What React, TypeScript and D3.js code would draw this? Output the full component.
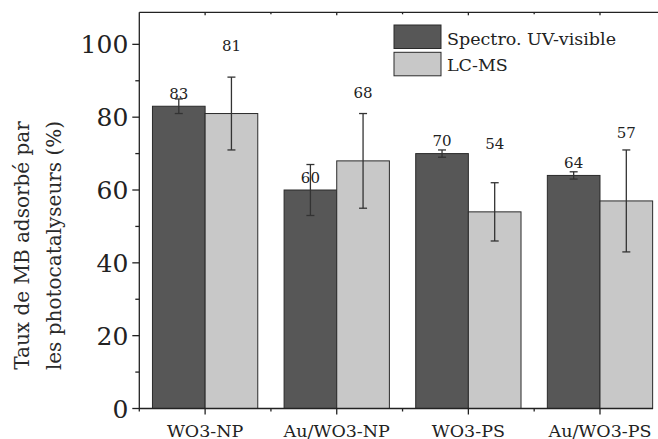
import React from "react";
import * as d3 from "d3";

const categories = ["WO3-NP", "Au/WO3-NP", "WO3-PS", "Au/WO3-PS"];
const seriesNames = ["Spectro. UV-visible", "LC-MS"];
const uvValues = [83, 60, 70, 64];
const uvErrors = [2, 7, 1, 1];
const lcValues = [81, 68, 54, 57];
const lcErrors = [10, 13, 8, 14];
const yTicks = [0, 20, 40, 60, 80, 100];
const yMinorTicks = [10, 30, 50, 70, 90];
const yMax = 108.8;
const yTitleLines = ["Taux de MB adsorbé par", "les photocatalyseurs (%)"];

const W = 658;
const H = 439;
const left = 139.3;
const top = 12.3;
const bottom = 408.5;
const xRangeEnd = 665.8;
const axisEnd = 653;

const colors = ["#575757", "#c8c8c8"];
const labelOffsets = [7.5, 62.5];
const FONT = "'DejaVu Serif', serif";

export default function App() {
  const x = d3
    .scaleBand<string>()
    .domain(categories)
    .range([left, xRangeEnd])
    .paddingInner(0.2)
    .paddingOuter(0.1);
  const xs = d3.scaleBand<number>().domain([0, 1]).range([0, x.bandwidth()]);
  const y = d3.scaleLinear().domain([0, yMax]).range([bottom, top]);
  const step = x.step();
  const values = [uvValues, lcValues];
  const errors = [uvErrors, lcErrors];
  const centers = categories.map((c) => (x(c) as number) + x.bandwidth() / 2);
  const boundaries = categories.slice(1).map((c) => (x(c) as number) - (step - x.bandwidth()) / 2);

  return (
    <svg
      width={W}
      height={H}
      style={{ position: "absolute", left: 0, top: 0, background: "#fff" }}
      fontFamily={FONT}
    >
      {values.map((vals, s) =>
        categories.map((c, i) => {
          const bx = (x(c) as number) + (xs(s) as number);
          return (
            <rect
              key={`b${s}-${i}`}
              x={bx}
              y={y(vals[i])}
              width={xs.bandwidth()}
              height={y(0) - y(vals[i])}
              fill={colors[s]}
              stroke="#2a2a2a"
              strokeWidth={1}
            />
          );
        })
      )}
      {values.map((vals, s) =>
        categories.map((c, i) => {
          const cx = (x(c) as number) + (xs(s) as number) + xs.bandwidth() / 2;
          const y1 = y(vals[i] + errors[s][i]);
          const y2 = y(vals[i] - errors[s][i]);
          return (
            <g key={`e${s}-${i}`} stroke="#333" strokeWidth={1.3}>
              <line x1={cx} x2={cx} y1={y1} y2={y2} />
              <line x1={cx - 4} x2={cx + 4} y1={y1} y2={y1} />
              <line x1={cx - 4} x2={cx + 4} y1={y2} y2={y2} />
            </g>
          );
        })
      )}
      {values.map((vals, s) =>
        categories.map((c, i) => {
          const cx = (x(c) as number) + (xs(s) as number) + xs.bandwidth() / 2;
          return (
            <text
              key={`l${s}-${i}`}
              x={cx}
              y={y(vals[i]) - labelOffsets[s]}
              textAnchor="middle"
              fontSize={15}
              fill="#222"
            >
              {vals[i]}
            </text>
          );
        })
      )}
      <g stroke="#222" strokeWidth={1.3} fill="none">
        <line x1={left} x2={left} y1={top} y2={bottom + 3} />
        <line x1={left} x2={W} y1={top} y2={top} />
        <line x1={left} x2={axisEnd} y1={bottom} y2={bottom} />
        {yTicks.map((t) => (
          <line key={`yt${t}`} x1={left - 7} x2={left} y1={y(t)} y2={y(t)} />
        ))}
        {yMinorTicks.map((t) => (
          <line key={`ym${t}`} x1={left - 4} x2={left} y1={y(t)} y2={y(t)} />
        ))}
        {centers.map((cx, i) => (
          <line key={`xt${i}`} x1={cx} x2={cx} y1={bottom} y2={bottom + 6} />
        ))}
        {boundaries.map((bx, i) => (
          <line key={`xm${i}`} x1={bx} x2={bx} y1={bottom} y2={bottom + 3} />
        ))}
        {centers.map((cx, i) => (
          <line key={`tt${i}`} x1={cx} x2={cx} y1={top} y2={top + 3} />
        ))}
        {boundaries.map((bx, i) => (
          <line key={`tm${i}`} x1={bx} x2={bx} y1={top} y2={top + 2} />
        ))}
      </g>
      {yTicks.map((t) => (
        <text
          key={`yl${t}`}
          x={left - 11}
          y={y(t)}
          dy="0.36em"
          textAnchor="end"
          fontSize={25}
          fill="#222"
        >
          {t}
        </text>
      ))}
      {categories.map((c, i) => (
        <text key={`xl${i}`} x={centers[i]} y={436.5} textAnchor="middle" fontSize={17.5} fill="#222">
          {c}
        </text>
      ))}
      {yTitleLines.map((line, i) => (
        <text
          key={`ytl${i}`}
          transform={`translate(${28.5 + i * 32.5},245.5) rotate(-90)`}
          textAnchor="middle"
          fontSize={20}
          fill="#2a2a2a"
        >
          {line}
        </text>
      ))}
      {seriesNames.map((n, i) => (
        <g key={`lg${i}`}>
          <rect
            x={394}
            y={25 + i * 27.3}
            width={47}
            height={23.5}
            fill={colors[i]}
            stroke="#2a2a2a"
            strokeWidth={1}
          />
          <text x={447} y={45 + i * 26} fontSize={17.5} fill="#222">
            {n}
          </text>
        </g>
      ))}
    </svg>
  );
}
